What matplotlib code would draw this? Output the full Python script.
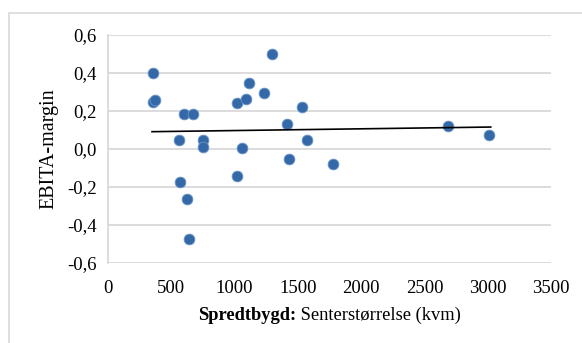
import numpy as np
import matplotlib
matplotlib.use('Agg')
import matplotlib.pyplot as plt
from matplotlib.patches import Rectangle

# senterstørrelse (kvm) og EBITA-margin
kvm = [353, 358, 371, 600, 669, 558, 753, 753, 569, 627, 637,
       1016, 1087, 1116, 1235, 1058, 1016, 1293, 1414, 1532, 1574,
       1427, 1780, 2688, 3009]
ebita = [0.40, 0.25, 0.26, 0.185, 0.185, 0.05, 0.05, 0.01, -0.175, -0.265, -0.475,
         0.24, 0.265, 0.345, 0.295, 0.005, -0.14, 0.50, 0.13, 0.22, 0.05,
         -0.05, -0.08, 0.12, 0.075]

x_ticks = [0, 500, 1000, 1500, 2000, 2500, 3000, 3500]
y_ticks = [-0.6, -0.4, -0.2, 0.0, 0.2, 0.4, 0.6]

plt.rcParams['font.family'] = ['Liberation Serif', 'DejaVu Serif']

fig = plt.figure(figsize=(5.82, 3.43), dpi=100)
# ramme rundt diagrammet
fig.patches.append(Rectangle((9 / 582, -0.1), 1.2, (343 - 13) / 343 + 0.1,
                             transform=fig.transFigure, fill=False,
                             edgecolor='#d9d9d9', linewidth=1.2))

ax = fig.add_axes([108 / 582, 80 / 343, 443 / 582, 228 / 343])

ax.scatter(kvm, ebita, s=60, color='#3468a6', edgecolors='#6a96cc',
           linewidths=0.6, zorder=3)

# lineær trendlinje
k, m = np.polyfit(kvm, ebita, 1)
xs = np.array([min(kvm) - 5, max(kvm) + 15])
ax.plot(xs, k * xs + m, color='black', linewidth=1.2, zorder=4)

ax.set_xlim(0, 3500)
ax.set_ylim(-0.6, 0.6)
ax.set_xticks(x_ticks)
ax.set_yticks(y_ticks)
ax.set_xticklabels([str(v) for v in x_ticks])
ax.set_yticklabels([('%.1f' % v).replace('.', ',') for v in y_ticks])
ax.tick_params(length=0, labelsize=13.5, pad=8)
ax.tick_params(axis='x', pad=12)

ax.grid(axis='y', color='#d9d9d9', linewidth=1.3)
ax.set_axisbelow(True)
for s in ['top', 'right', 'bottom']:
    ax.spines[s].set_visible(False)
ax.spines['left'].set_color('#d9d9d9')
ax.spines['left'].set_linewidth(1.3)

ax.set_ylabel('EBITA-margin', fontsize=14.5, labelpad=6)

t1 = fig.text(296 / 582, 1 - 315 / 343, 'Spredtbygd:', fontsize=13.3,
              fontweight='bold', ha='right', va='center')
ax.annotate(' Senterstørrelse (kvm)', xy=(1, 0), xycoords=t1,
            fontsize=13.3, ha='left', va='bottom')

fig.savefig('out.png', dpi=100)
